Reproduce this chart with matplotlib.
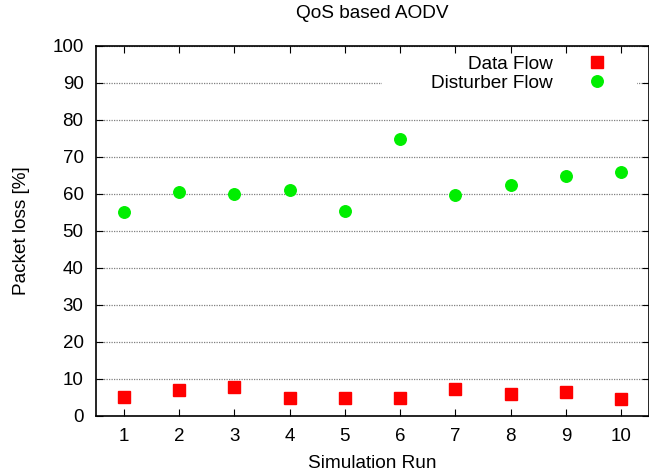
import matplotlib.pyplot as plt
from matplotlib.patches import Rectangle
import numpy as np

plt.rcParams['font.family'] = ['Liberation Sans', 'DejaVu Sans']

runs = [1, 2, 3, 4, 5, 6, 7, 8, 9, 10]
data_flow = [5.0, 6.9, 7.8, 4.8, 4.8, 4.8, 7.2, 5.9, 6.4, 4.5]
disturber_flow = [55.2, 60.4, 60.0, 61.1, 55.4, 74.9, 59.8, 62.3, 64.9, 66.0]

fig = plt.figure(figsize=(6.49, 4.74), dpi=100)
ax = fig.add_axes([0.148, 0.1224, 0.852, 0.7806])

ax.plot(runs, data_flow, 's', color='#ff0000', markersize=9.2, label='Data Flow')
ax.plot(runs, disturber_flow, 'o', color='#00ee00', markersize=8.3, label='Disturber Flow')

ax.set_xlim(0.5, 10.5)
ax.set_ylim(0, 100)
ax.set_xticks(runs)
ax.set_yticks(np.arange(0, 101, 10))
ax.tick_params(direction='in', top=True, right=True, labelsize=13.5, length=5, pad=9)
ax.yaxis.grid(True, linestyle=(0, (1, 1)), color='#808080', linewidth=0.9)
ax.set_axisbelow(True)
for s in ax.spines.values():
    s.set_linewidth(1.2)

# key area hides the grid like gnuplot does
ax.add_patch(Rectangle((0.518, 0.85), 0.46, 0.1, transform=ax.transAxes,
                       facecolor='white', edgecolor='none', zorder=1))

ax.set_title('QoS based AODV', fontsize=13.7, pad=20)
ax.set_xlabel('Simulation Run', fontsize=13.7, labelpad=7)
ax.set_ylabel('Packet loss [%]', fontsize=13.7, labelpad=16)

leg = ax.legend(loc='upper right', bbox_to_anchor=(0.948, 0.984), markerfirst=False,
                frameon=False, fontsize=13.7, handletextpad=1.33,
                borderaxespad=0, labelspacing=0.08, borderpad=0.2)
for t in leg.get_texts():
    t.set_ha('right')

fig.savefig('out.png', dpi=100)
